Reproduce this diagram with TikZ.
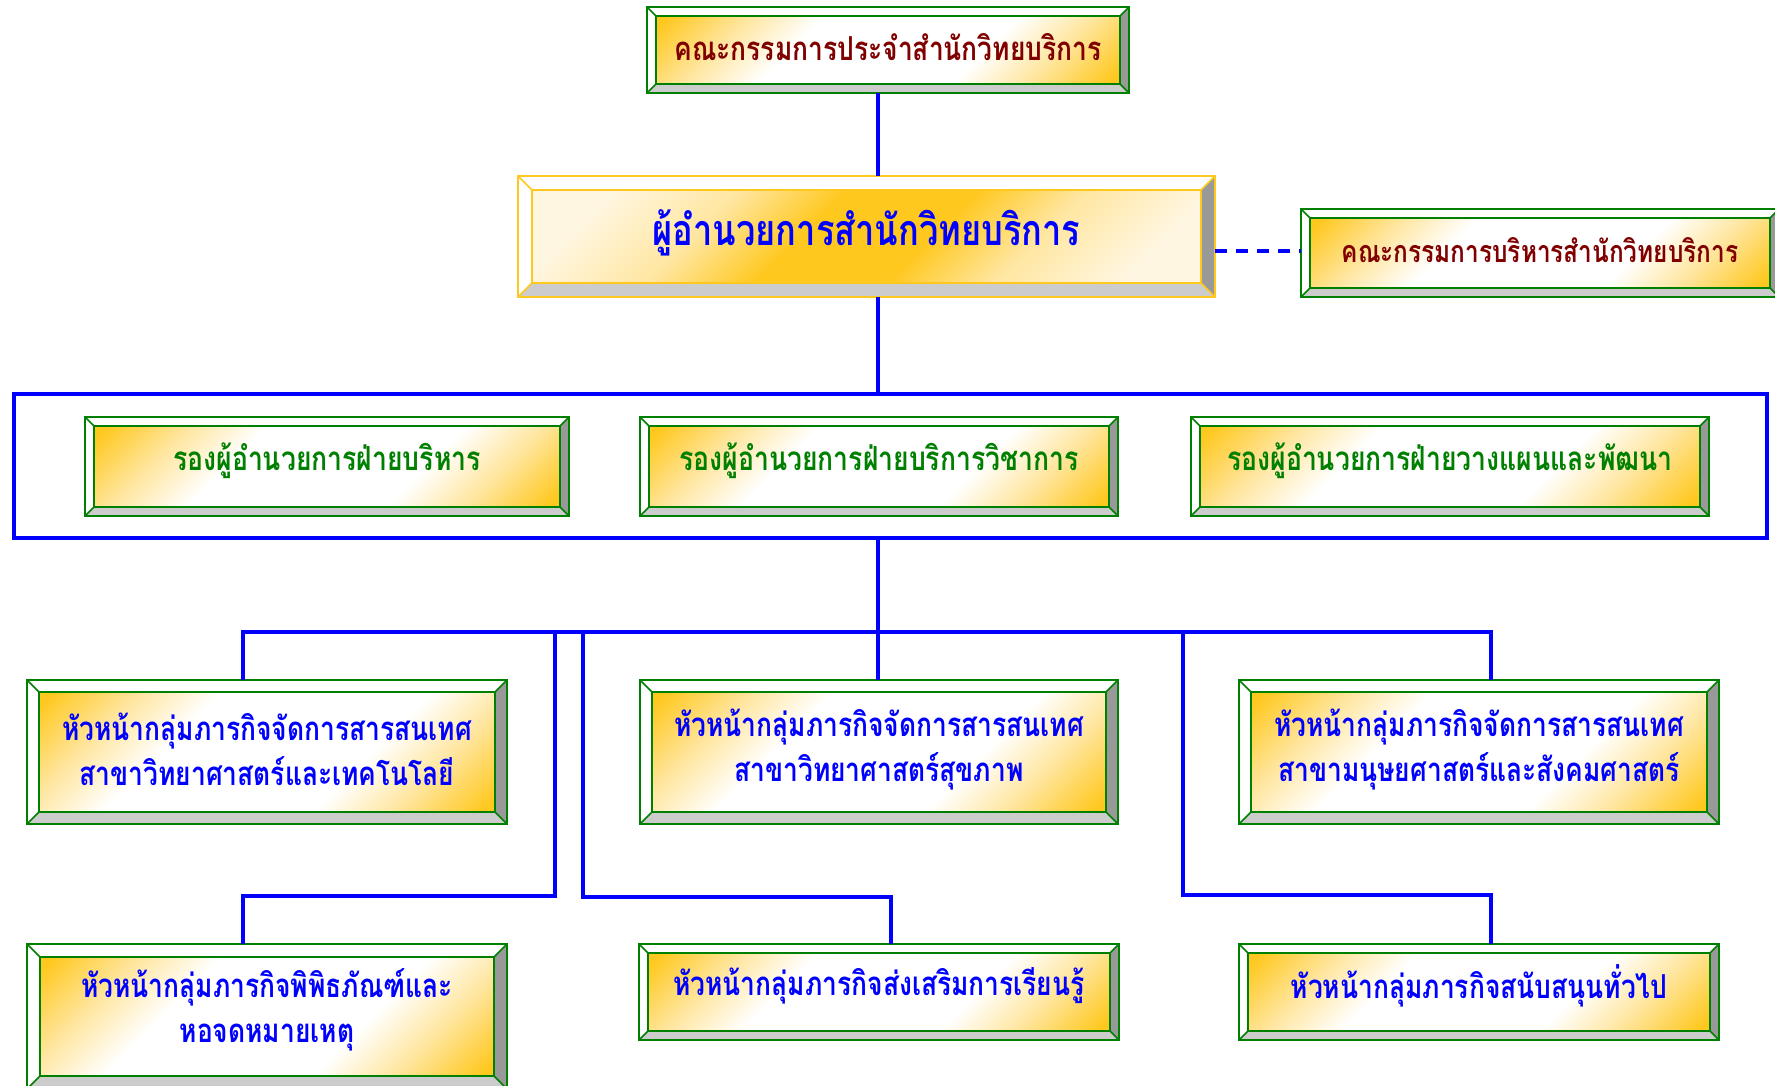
\documentclass[tikz,border=0pt]{standalone}
\usepackage{fontspec}
\newfontfamily\thaifont[Script=Thai,FakeStretch=0.8]{Loma}
\usetikzlibrary{calc}
\definecolor{bxgold}{RGB}{255,200,30}
\definecolor{bxgoldlt}{RGB}{255,230,160}
\definecolor{bxgoldpale}{RGB}{255,246,225}
\definecolor{bxgreen}{RGB}{0,128,0}
\definecolor{bvdark}{RGB}{153,153,153}
\definecolor{bvlight}{RGB}{204,204,204}
\definecolor{txtred}{RGB}{128,0,0}
\definecolor{txtblue}{RGB}{0,0,255}
\definecolor{txtgreen}{RGB}{0,128,0}
\pgfdeclareverticalshading{cornergold}{100bp}{color(0bp)=(bxgold); color(16bp)=(bxgold); color(27bp)=(bxgoldlt); color(37bp)=(white); color(63bp)=(white); color(73bp)=(bxgoldlt); color(84bp)=(bxgold); color(100bp)=(bxgold)}
\pgfdeclareverticalshading{bandgold}{100bp}{color(0bp)=(bxgoldpale); color(22bp)=(bxgoldpale); color(34bp)=(bxgoldlt); color(44bp)=(bxgold); color(56bp)=(bxgold); color(66bp)=(bxgoldlt); color(78bp)=(bxgoldpale); color(100bp)=(bxgoldpale)}
\tikzset{
  gline/.style={draw=bxgreen, line width=1.6pt},
  yline/.style={draw=bxgold, line width=1.6pt},
  gshade/.style={shading=cornergold, shading angle=45},
  yshade/.style={shading=bandgold, shading angle=45},
  conn/.style={draw=blue, line width=3.5pt},
  redtxt/.style={text=txtred, yshift=2.5pt, font=\thaifont\bfseries\fontsize{33}{38}\selectfont},
  comtxt/.style={text=txtred, yshift=2.5pt, font=\thaifont\bfseries\fontsize{30.5}{36}\selectfont},
  dirtxt/.style={text=txtblue, yshift=3.5pt, font=\thaifont\bfseries\fontsize{43}{48}\selectfont},
  deptxt/.style={text=txtgreen, yshift=5.5pt, font=\thaifont\bfseries\fontsize{33.2}{38}\selectfont},
  bluetxt/.style={text=txtblue, yshift=2.5pt, align=center, font=\thaifont\bfseries\fontsize{33}{45}\selectfont},
  blueonetxt/.style={bluetxt, yshift=4pt},
}
% #1 name, #2 x1, #3 y1, #4 x2, #5 y2, #6 bevel, #7 kind (g/y), #8 text style, #9 text
\newcommand\bevbox[9]{%
  \pgfmathsetmacro\bxa{#2+#6}\pgfmathsetmacro\bya{#3+#6}%
  \pgfmathsetmacro\bxb{#4-#6}\pgfmathsetmacro\byb{#5-#6}%
  \fill[white] (#2,#3) -- (#4,#3) -- (\bxb,\bya) -- (\bxa,\bya) -- cycle;
  \fill[white] (#2,#3) -- (\bxa,\bya) -- (\bxa,\byb) -- (#2,#5) -- cycle;
  \fill[bvdark] (#4,#3) -- (#4,#5) -- (\bxb,\byb) -- (\bxb,\bya) -- cycle;
  \fill[bvlight] (#2,#5) -- (#4,#5) -- (\bxb,\byb) -- (\bxa,\byb) -- cycle;
  \shade[#7shade] (\bxa,\bya) rectangle (\bxb,\byb);
  \draw[#7line] (#2,#3) rectangle (#4,#5) (\bxa,\bya) rectangle (\bxb,\byb)
     (#2,#3) -- (\bxa,\bya) (#4,#3) -- (\bxb,\bya) (#4,#5) -- (\bxb,\byb) (#2,#5) -- (\bxa,\byb);
  \node[inner sep=0pt, outer sep=0pt, minimum width={(#4-#2)*1pt}, minimum height={(#5-#3)*1pt}]
     (#1) at ({(#2+#4)/2},{(#3+#5)/2}) {};
  \node[#8, inner sep=0pt] (#1t) at (#1.center) {#9};
}
\begin{document}
\begin{tikzpicture}[x=1pt,y=-1pt]
\useasboundingbox (0,0) rectangle (1775,1085);
\clip (0,0) rectangle (1775,1085);
\fill[white] (0,0) rectangle (1775,1085);
% group frame
\node[draw=blue, line width=3.5pt, inner sep=0pt, outer sep=0pt, minimum width=1753pt, minimum height=144pt] (grp) at (890.5,466) {};
% boxes
\bevbox{top}{647}{7}{1129}{93}{9}{g}{redtxt}{คณะกรรมการประจำสำนักวิทยบริการ}
\bevbox{dir}{518}{176}{1215}{297}{14}{y}{dirtxt}{ผู้อำนวยการสำนักวิทยบริการ}
\bevbox{com}{1301}{209}{1779}{297}{9}{g}{comtxt}{คณะกรรมการบริหารสำนักวิทยบริการ}
\bevbox{dpa}{85}{417}{569}{516}{9}{g}{deptxt}{รองผู้อำนวยการฝ่ายบริหาร}
\bevbox{dpb}{640}{417}{1118}{516}{9}{g}{deptxt}{รองผู้อำนวยการฝ่ายบริการวิชาการ}
\bevbox{dpc}{1191}{417}{1709}{516}{9}{g}{deptxt}{รองผู้อำนวยการฝ่ายวางแผนและพัฒนา}
\bevbox{rta}{27}{680}{507}{824}{12}{g}{bluetxt}{หัวหน้ากลุ่มภารกิจจัดการสารสนเทศ\\สาขาวิทยาศาสตร์และเทคโนโลยี}
\bevbox{rtb}{640}{680}{1118}{824}{12}{g}{bluetxt}{หัวหน้ากลุ่มภารกิจจัดการสารสนเทศ\\สาขาวิทยาศาสตร์สุขภาพ}
\bevbox{rtc}{1239}{680}{1719}{824}{12}{g}{bluetxt}{หัวหน้ากลุ่มภารกิจจัดการสารสนเทศ\\สาขามนุษยศาสตร์และสังคมศาสตร์}
\bevbox{rfa}{27}{944}{507}{1089}{13}{g}{blueonetxt}{หัวหน้ากลุ่มภารกิจพิพิธภัณฑ์และ\\หอจดหมายเหตุ}
\bevbox{rfb}{639}{944}{1119}{1040}{9}{g}{blueonetxt}{หัวหน้ากลุ่มภารกิจส่งเสริมการเรียนรู้}
\bevbox{rfc}{1239}{944}{1719}{1040}{9}{g}{blueonetxt}{หัวหน้ากลุ่มภารกิจสนับสนุนทั่วไป}
% connectors
\coordinate (sp) at (878,0);
\coordinate (dl) at (0,251);
\coordinate (busL) at (243,632);
\coordinate (busR) at (1491,632);
\coordinate (ka) at (555,632);
\coordinate (kb) at (583,632);
\coordinate (kc) at (1183,632);
\coordinate (d2) at (891,0);
\draw[conn] (top.south -| sp) -- (dir.north -| sp);
\draw[conn] (dir.south -| sp) -- (grp.north -| sp);
\draw[conn] (grp.south -| sp) -- (rtb.north -| sp);
\draw[conn] (rta.north -| busL) -- (busL) -- (busR) -- (rtc.north -| busR);
\draw[conn] (ka) -- ++(0,264) -| (rfa.north -| busL);
\draw[conn] (kb) -- ++(0,265) -| (rfb.north -| d2);
\draw[conn] (kc) -- ++(0,263) -| (rfc.north -| busR);
\draw[draw=blue, line width=3.5pt, dash pattern=on 12pt off 9pt] (dir.east |- dl) -- (com.west |- dl);
\end{tikzpicture}
\end{document}
